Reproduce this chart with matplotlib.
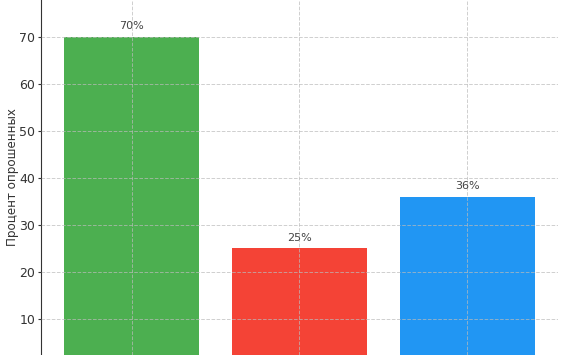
import matplotlib
matplotlib.use("Agg")
import matplotlib.pyplot as plt

categories = ["Да", "Нет", "Частично"]
values = [70, 25, 36]
labels = ["70%", "25%", "36%"]
colors = ["#4CAF50", "#F44336", "#2196F3"]

fig = plt.figure(figsize=(5.65, 3.55), dpi=100)
ax = fig.add_axes([41 / 565, 0, (558 - 41) / 565, 1])

x = range(len(categories))
bars = ax.bar(x, values, width=0.8, color=colors, zorder=1)
ax.set_xticks(list(x))
ax.set_xticklabels(categories)
ax.tick_params(axis="x", labelbottom=False, length=0)

for b, lab in zip(bars, labels):
    ax.annotate(lab, (b.get_x() + b.get_width() / 2, b.get_height()),
                xytext=(0, 4), textcoords="offset points",
                ha="center", va="bottom", fontsize=8, color="#444444")

ax.set_ylim(2.34, 77.87)
ax.set_yticks([10, 20, 30, 40, 50, 60, 70])
ax.set_ylabel("Процент опрошенных", fontsize=8.6, color="#333333")
ax.yaxis.set_label_coords(-0.0426, 0.5)
ax.tick_params(axis="y", labelsize=9, colors="#333333", length=2.5, pad=1.5)
ax.grid(True, linestyle="--", color="#bbbbbb", linewidth=0.7, alpha=0.7, zorder=3)
ax.set_axisbelow(False)
for s in ["top", "right", "bottom"]:
    ax.spines[s].set_visible(False)
ax.spines["left"].set_color("#333333")

fig.savefig("out.png", dpi=100)
